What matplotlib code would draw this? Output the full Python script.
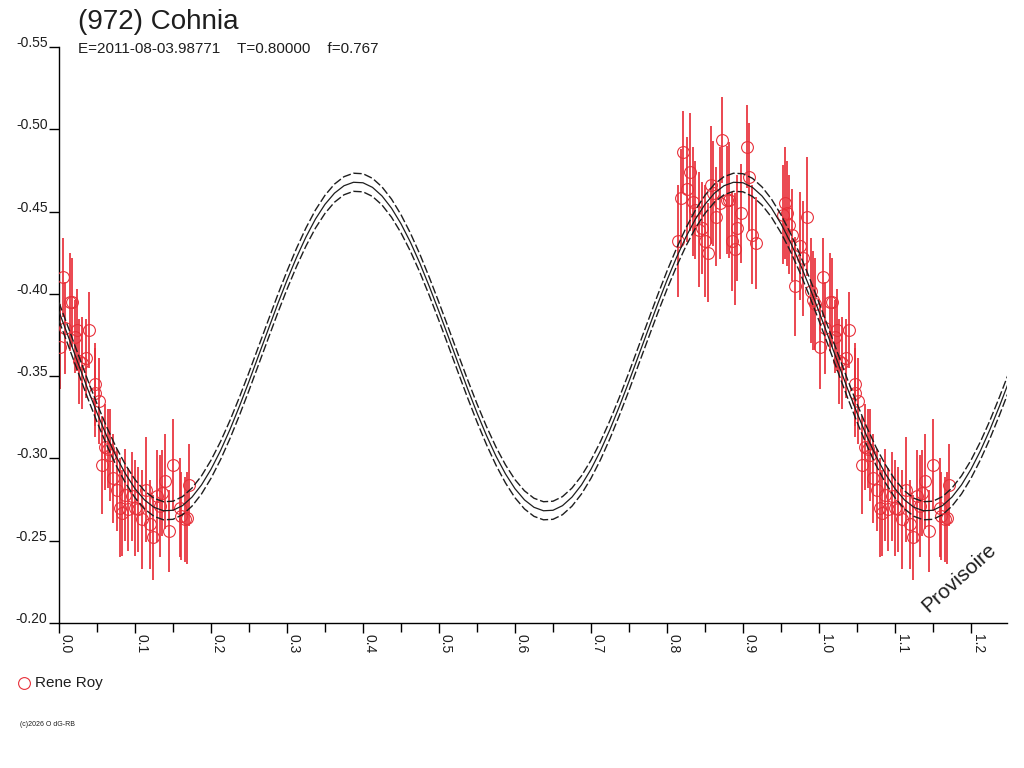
import matplotlib
matplotlib.use("Agg")
import matplotlib.pyplot as plt
from matplotlib.lines import Line2D
import numpy as np

plt.rcParams['font.family'] = ['Liberation Sans', 'DejaVu Sans']

# ---------------- data ----------------
title = "(972) Cohnia"
subtitle = "E=2011-08-03.98771    T=0.80000    f=0.767"
observer = "Rene Roy"

# observations, phase in [0,1)
phase_a = [0.001, 0.005, 0.008, 0.0145, 0.0175, 0.021, 0.024, 0.026, 0.030, 0.036,
           0.040, 0.047, 0.048, 0.052, 0.056, 0.0605, 0.065, 0.067, 0.0715, 0.076,
           0.080, 0.083, 0.087, 0.091, 0.096, 0.100, 0.104, 0.109, 0.115, 0.120,
           0.124, 0.129, 0.133, 0.136, 0.139, 0.145, 0.150, 0.159, 0.161, 0.166,
           0.168, 0.171]
mag_a = [-0.368, -0.410, -0.379, -0.395, -0.395, -0.374, -0.378, -0.359, -0.358, -0.361,
         -0.378, -0.340, -0.345, -0.335, -0.296, -0.307, -0.306, -0.302, -0.288, -0.281,
         -0.270, -0.267, -0.278, -0.269, -0.277, -0.270, -0.269, -0.263, -0.281, -0.260,
         -0.252, -0.277, -0.271, -0.279, -0.286, -0.256, -0.296, -0.270, -0.265, -0.263,
         -0.264, -0.284]
err_a = [0.026, 0.024, 0.028, 0.030, 0.027, 0.022, 0.025, 0.026, 0.028, 0.024,
         0.023, 0.027, 0.025, 0.026, 0.030, 0.026, 0.024, 0.028, 0.027, 0.025,
         0.030, 0.026, 0.028, 0.025, 0.027, 0.029, 0.026, 0.030, 0.032, 0.027,
         0.026, 0.028, 0.031, 0.026, 0.029, 0.025, 0.028, 0.030, 0.027, 0.026,
         0.028, 0.025]

phase_b = [0.815, 0.818, 0.821, 0.826, 0.830, 0.834, 0.837, 0.8425, 0.8455, 0.850,
           0.854, 0.8575, 0.861, 0.865, 0.870, 0.873, 0.8785, 0.882, 0.885, 0.8895,
           0.8925, 0.897, 0.905, 0.908, 0.9125, 0.9165, 0.953, 0.955, 0.9575, 0.9605,
           0.964, 0.968, 0.975, 0.979, 0.984, 0.990, 0.9925, 0.9947]
mag_b = [-0.432, -0.458, -0.486, -0.4635, -0.474, -0.456, -0.451, -0.439, -0.440, -0.432,
         -0.425, -0.466, -0.461, -0.447, -0.455, -0.4935, -0.457, -0.457, -0.432, -0.427,
         -0.440, -0.449, -0.4895, -0.471, -0.436, -0.431, -0.448, -0.455, -0.449, -0.442,
         -0.436, -0.4045, -0.429, -0.4216, -0.447, -0.402, -0.396, -0.394]
err_b = [0.034, 0.030, 0.025, 0.032, 0.036, 0.033, 0.030, 0.035, 0.028, 0.034,
         0.030, 0.036, 0.032, 0.030, 0.034, 0.026, 0.033, 0.035, 0.030, 0.034,
         0.032, 0.030, 0.025, 0.033, 0.030, 0.028, 0.030, 0.034, 0.032, 0.030,
         0.028, 0.030, 0.033, 0.035, 0.036, 0.032, 0.030, 0.028]

# fitted light curve, sampled every 0.0125 in phase over [0,1)
curve_step = 0.0125
curve_mag = [
    # 0.000 - 0.4875
    -0.3892, -0.3737, -0.3580, -0.3425, -0.3277, -0.3139, -0.3014, -0.2906,
    -0.2816, -0.2748, -0.2703, -0.2682, -0.2685, -0.2713, -0.2765, -0.2839,
    -0.2934, -0.3047, -0.3176, -0.3318, -0.3468, -0.3624, -0.3780, -0.3935,
    -0.4083, -0.4221, -0.4346, -0.4455, -0.4544, -0.4612, -0.4657, -0.4678,
    -0.4675, -0.4647, -0.4595, -0.4521, -0.4426, -0.4313, -0.4184, -0.4042,
    # 0.500 - 0.9875
    -0.3892, -0.3737, -0.3580, -0.3425, -0.3277, -0.3139, -0.3014, -0.2906,
    -0.2816, -0.2748, -0.2703, -0.2682, -0.2685, -0.2713, -0.2765, -0.2839,
    -0.2934, -0.3047, -0.3176, -0.3318, -0.3468, -0.3624, -0.3780, -0.3935,
    -0.4083, -0.4221, -0.4346, -0.4455, -0.4544, -0.4612, -0.4657, -0.4678,
    -0.4675, -0.4647, -0.4595, -0.4521, -0.4426, -0.4313, -0.4184, -0.4042,
]
curve_band = 0.0055   # half-width of the dashed uncertainty curves

yticks = [-0.55, -0.50, -0.45, -0.40, -0.35, -0.30, -0.25, -0.20]
xticks = [0.0, 0.1, 0.2, 0.3, 0.4, 0.5, 0.6, 0.7, 0.8, 0.9, 1.0, 1.1, 1.2]

# ---------------- figure ----------------
RED = '#e8303a'
INK = '#1e1e1e'
W, H = 1024, 768
XMAX = 1.2474

fig = plt.figure(figsize=(W / 100, H / 100), dpi=100)
ax = fig.add_axes([59 / W, 145 / H, 948 / W, 576 / H])
ax.set_xlim(0, XMAX)
ax.set_ylim(-0.20, -0.55)

# observations with one-cycle repetition beyond phase 1
ph = np.array(phase_a + phase_b)
mg = np.array(mag_a + mag_b)
er = np.array(err_a + err_b)
rep = ph + 1.0 <= XMAX
ph_all = np.concatenate([ph, ph[rep] + 1.0])
mg_all = np.concatenate([mg, mg[rep]])
er_all = np.concatenate([er, er[rep]])

ax.errorbar(ph_all, mg_all, yerr=er_all, fmt='none', ecolor=RED,
            elinewidth=1.25, capsize=0, zorder=2)
ax.plot(ph_all, mg_all, 'o', ms=8.5, mfc='none', mec=RED, mew=0.8, zorder=3)

# fitted curve, wrapped over [0, XMAX]
cm = np.array(curve_mag)
cp = np.arange(len(cm)) * curve_step
cp_all = np.concatenate([cp, cp + 1.0, [2.0]])
cm_all = np.concatenate([cm, cm, [cm[0]]])
keep = cp_all <= XMAX + 0.015
cp_all, cm_all = cp_all[keep], cm_all[keep]
ax.plot(cp_all, cm_all, '-', color=INK, lw=0.9, zorder=4)
ax.plot(cp_all, cm_all - curve_band, color=INK, lw=1.0, ls=(0, (6, 2)), zorder=4)
ax.plot(cp_all, cm_all + curve_band, color=INK, lw=1.0, ls=(0, (6, 2)), zorder=4)

# axes styling
for s in ('top', 'right'):
    ax.spines[s].set_visible(False)
for s in ('left', 'bottom'):
    ax.spines[s].set_color('black')
    ax.spines[s].set_linewidth(1.0)

ax.set_yticks(yticks)
ax.set_yticklabels(["%.2f" % v for v in yticks])
ax.tick_params(axis='y', direction='out', length=7.2, width=1.0, pad=1,
               labelsize=10, colors='black')
for lab in ax.get_yticklabels():
    lab.set_va('baseline')
    lab.set_color(INK)

ax.set_xticks(xticks)
ax.set_xticklabels(["%.1f" % v for v in xticks], rotation=-90)
ax.set_xticks([v + 0.05 for v in xticks if v + 0.05 <= XMAX], minor=True)
ax.tick_params(axis='x', which='major', direction='out', length=7.2, width=1.0,
               pad=1, labelsize=10)
ax.tick_params(axis='x', which='minor', direction='out', length=6.2, width=1.0)
for lab in ax.get_xticklabels():
    lab.set_ha('left')
    lab.set_va('top')
    lab.set_color(INK)

# texts
fig.text(78 / W, 1 - 29 / H, title, fontsize=20, va='baseline', ha='left', color=INK)
fig.text(78 / W, 1 - 53 / H, subtitle, fontsize=11, va='baseline', ha='left', color=INK)
fig.text(959 / W, 1 - 578 / H, "Provisoire", fontsize=15, rotation=42,
         ha='center', va='center', color=INK)

fig.add_artist(Line2D([24 / W], [1 - 683 / H], marker='o', ms=8.5, mfc='none',
                      mec=RED, mew=0.8, transform=fig.transFigure))
fig.text(35 / W, 1 - 683 / H, observer, fontsize=11, va='center', ha='left', color=INK)
fig.text(20 / W, 1 - 725 / H, "(c)2026 O dG-RB", fontsize=5, va='center', ha='left',
         color=INK)

fig.savefig("out.png", dpi=100)
